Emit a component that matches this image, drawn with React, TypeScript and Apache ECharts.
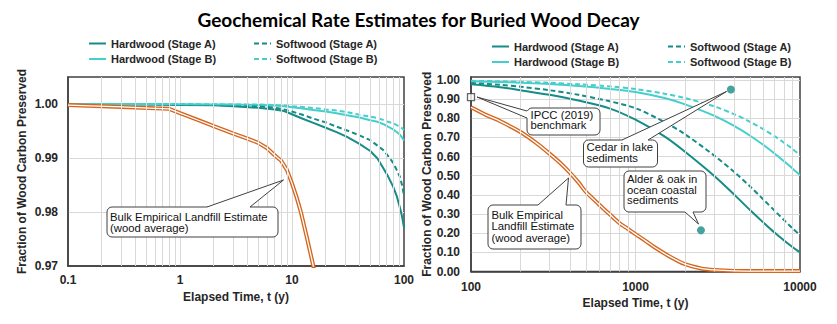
import React, { useEffect, useRef } from 'react';
import * as echarts from 'echarts';

// ---------- data ----------
const NAMES = ['Hardwood (Stage A)', 'Hardwood (Stage B)', 'Softwood (Stage A)', 'Softwood (Stage B)'];

// Left panel (0.1 – 100 y)
const leftT = [0.1, 0.5, 1, 2, 3, 5, 7, 8.5, 10, 12, 15.5, 20, 25, 31, 40, 50, 58, 65, 72, 80, 86, 92, 96, 100];
const leftHardA = [1.0, 0.9999, 0.9998, 0.99975, 0.9996, 0.9993, 0.999, 0.9987, 0.9981, 0.9974, 0.9965, 0.9956, 0.9948, 0.9939, 0.9926, 0.9913, 0.9899, 0.9882, 0.9866, 0.9847, 0.983, 0.9808, 0.9792, 0.9771];
const leftHardB = [1.0, 1.0, 0.99995, 0.9999, 0.9999, 0.9998, 0.9997, 0.9996, 0.9994, 0.9992, 0.9989, 0.9986, 0.9983, 0.9979, 0.9975, 0.997, 0.9967, 0.9963, 0.9958, 0.9953, 0.9948, 0.9943, 0.9938, 0.9932];
const leftSoftA = [1.0, 0.99995, 0.9999, 0.9998, 0.99975, 0.9996, 0.9993, 0.999, 0.9986, 0.9981, 0.9973, 0.9966, 0.9958, 0.9951, 0.9942, 0.9933, 0.9923, 0.9915, 0.9904, 0.9891, 0.9878, 0.9865, 0.985, 0.9831];
const leftSoftB = [1.0, 1.0, 1.0, 0.99995, 0.9999, 0.9999, 0.9998, 0.9997, 0.9996, 0.9995, 0.99925, 0.999, 0.9988, 0.9985, 0.998, 0.99768, 0.9974, 0.99706, 0.9967, 0.99644, 0.9961, 0.9958, 0.9955, 0.9952];
const leftLandfillT = [0.1, 0.3, 0.6, 0.8, 1, 1.5, 2, 3, 4, 5, 6, 7, 8, 9, 10, 11, 12, 13.5, 15.5, 20, 100];
const leftLandfillV = [0.9998, 0.99945, 0.9992, 0.9991, 0.9983, 0.9969, 0.9959, 0.9945, 0.9936, 0.9928, 0.9918, 0.9905, 0.9895, 0.9878, 0.9853, 0.9827, 0.98, 0.9755, 0.97, 0.958, 0.857];

// Right panel (100 – 10000 y)
const rightT = [100, 150, 200, 300, 450, 700, 1000, 1500, 2000, 3000, 4000, 5000, 6000, 7000, 8000, 9000, 10000];
const rightHardA = [0.977, 0.962, 0.946, 0.922, 0.892, 0.85, 0.792, 0.705, 0.625, 0.5, 0.4, 0.318, 0.255, 0.203, 0.162, 0.128, 0.1];
const rightHardB = [0.993, 0.989, 0.985, 0.978, 0.968, 0.953, 0.937, 0.905, 0.872, 0.813, 0.758, 0.707, 0.66, 0.616, 0.575, 0.538, 0.503];
const rightSoftA = [0.984, 0.974, 0.964, 0.946, 0.922, 0.888, 0.852, 0.78, 0.716, 0.606, 0.518, 0.442, 0.375, 0.318, 0.268, 0.226, 0.19];
const rightSoftB = [0.995, 0.993, 0.99, 0.985, 0.977, 0.966, 0.952, 0.928, 0.905, 0.862, 0.82, 0.78, 0.742, 0.706, 0.672, 0.64, 0.608];
const rightLandfillT = [100, 125, 150, 200, 250, 300, 350, 400, 450, 500, 600, 700, 800, 900, 1000, 1150, 1300, 1600, 2000, 2500, 3000, 4000, 6000, 10000];
const rightLandfillV = [0.857, 0.815, 0.785, 0.728, 0.67, 0.615, 0.565, 0.515, 0.465, 0.415, 0.35, 0.297, 0.252, 0.222, 0.195, 0.16, 0.128, 0.08, 0.038, 0.016, 0.008, 0.003, 0.002, 0.002];

const ipccPoint = [100, 0.91];
const cedarPoint = [3800, 0.95];
const alderPoint = [2500, 0.215];

// ---------- style ----------
const TEAL = '#168c87';
const CYAN = '#45cfcc';
const ORANGE = '#d4661e';
const GRIDC = '#d9d9d9';
const FRAME = '#404040';
const FONT = '"Liberation Sans", Arial, sans-serif';

const pair = (t: number[], v: number[]) => t.map((x, i) => [x, v[i]]);

const minorTicks = (decades: number[]) => {
  const out: number[] = [];
  decades.forEach((d) => {
    for (let k = 2; k <= 9; k++) out.push(+(k * d).toPrecision(6));
  });
  return out;
};

function curveSeries(ai: number, data: number[][][], smooth: number | boolean) {
  const colors = [TEAL, CYAN, TEAL, CYAN];
  const types: any[] = ['solid', 'solid', [5, 3], [5, 3]];
  return NAMES.map((name, i) => ({
    name,
    type: 'line',
    xAxisIndex: ai,
    yAxisIndex: ai,
    data: data[i],
    symbol: 'none',
    showSymbol: false,
    smooth,
    lineStyle: { color: colors[i], width: 2, type: types[i] },
    itemStyle: { color: colors[i] },
    z: 3,
  }));
}

function landfillSeries(ai: number, data: number[][], smooth: number | boolean) {
  return [
    { name: 'landfill', type: 'line', xAxisIndex: ai, yAxisIndex: ai, data, symbol: 'none', smooth,
      lineStyle: { color: ORANGE, width: 4 }, z: 4, silent: true },
    { name: 'landfill-inner', type: 'line', xAxisIndex: ai, yAxisIndex: ai, data, symbol: 'none', smooth,
      lineStyle: { color: '#ffffff', width: 1.3 }, z: 5, silent: true },
  ];
}

function minorGridSeries(ai: number, ticks: number[]) {
  return {
    name: 'minor-grid' + ai,
    type: 'line',
    xAxisIndex: ai,
    yAxisIndex: ai,
    data: [],
    silent: true,
    z: 1,
    markLine: {
      silent: true,
      symbol: ['none', 'none'],
      label: { show: false },
      lineStyle: { color: GRIDC, width: 1, type: 'solid' },
      emphasis: { disabled: true },
      data: ticks.map((v) => ({ xAxis: v })),
    },
  };
}

type Callout = {
  x: number; y: number; w: number; h: number;
  lines: string[]; tx: number; ty: number; lh: number;
  b1: number[]; b2: number[]; tip: number[]; side: 'top' | 'bottom' | 'left' | 'right';
};

const callouts: Callout[] = [
  { x: 107, y: 207, w: 171, h: 30, lines: ['Bulk Empirical Landfill Estimate', '(wood average)'], tx: 110, ty: 211, lh: 11.6,
    b1: [207, 207], b2: [250, 207], tip: [283.5, 180], side: 'top' },
  { x: 527, y: 108, w: 73, h: 27, lines: ['IPCC (2019)', 'benchmark'], tx: 530.5, ty: 109.5, lh: 10.6,
    b1: [527, 111], b2: [527, 118], tip: [477, 97], side: 'left' },
  { x: 583.5, y: 140, w: 74, h: 27, lines: ['Cedar in lake', 'sediments'], tx: 586.5, ty: 141.5, lh: 11,
    b1: [622, 140], b2: [648, 140], tip: [726.5, 91.5], side: 'top' },
  { x: 624, y: 171, w: 82, h: 41, lines: ['Alder & oak in', 'ocean coastal', 'sediments'], tx: 627, ty: 174, lh: 10.5,
    b1: [685, 212], b2: [693, 212], tip: [698.5, 224], side: 'bottom' },
  { x: 488, y: 205, w: 93, h: 44, lines: ['Bulk Empirical', 'Landfill Estimate', '(wood average)'], tx: 491.5, ty: 209, lh: 11.5,
    b1: [538, 205], b2: [566, 205], tip: [568.5, 178], side: 'top' },
];

function calloutElements(c: Callout) {
  const d = c.side === 'top' ? [0, 1.5] : c.side === 'bottom' ? [0, -1.5] : c.side === 'left' ? [1.5, 0] : [-1.5, 0];
  return [
    { type: 'rect', z: 100, shape: { x: c.x, y: c.y, width: c.w, height: c.h, r: 5 },
      style: { fill: '#ffffff', stroke: FRAME, lineWidth: 1 } },
    { type: 'polygon', z: 101,
      shape: { points: [[c.b1[0] + d[0], c.b1[1] + d[1]], c.b1, c.tip, c.b2, [c.b2[0] + d[0], c.b2[1] + d[1]]] },
      style: { fill: '#ffffff', lineWidth: 0 } },
    { type: 'polyline', z: 102, shape: { points: [c.b1, c.tip, c.b2] },
      style: { stroke: FRAME, lineWidth: 1, fill: null } },
    { type: 'text', z: 103, x: c.tx, y: c.ty,
      style: { text: c.lines.join('\n'), fontSize: 11.3, fontFamily: FONT, fill: '#111111', lineHeight: c.lh } },
  ];
}

const axisLabelStyle = { fontSize: 12, fontWeight: 'bold' as const, fontFamily: FONT, color: '#262626' };
const axisNameStyle = { fontSize: 12, fontWeight: 'bold' as const, fontFamily: FONT, color: '#262626' };

function legends(left1: number, left2: number, top: number) {
  const base = {
    orient: 'vertical', top, itemWidth: 17, itemHeight: 10, itemGap: 2.5, padding: 0, selectedMode: false,
    itemStyle: { opacity: 0, borderWidth: 0 },
    textStyle: { fontSize: 11, fontWeight: 'bold', fontFamily: FONT, color: '#262626', lineHeight: 13 },
  };
  return [
    { ...base, left: left1, data: [NAMES[0], NAMES[1]] },
    { ...base, left: left2, data: [NAMES[2], NAMES[3]] },
  ];
}

export default function App() {
  const ref = useRef<HTMLDivElement>(null);
  useEffect(() => {
    if (!ref.current) return;
    const chart = echarts.init(ref.current, null, { renderer: 'svg' });
    const splitLine = { show: true, lineStyle: { color: GRIDC, width: 1 }, showMinLine: false, showMaxLine: false };
    const option: any = {
      animation: false,
      backgroundColor: '#ffffff',
      title: {
        text: 'Geochemical Rate Estimates for Buried Wood Decay',
        left: 'center', top: 5,
        textStyle: { fontFamily: 'Lato, "Open Sans", sans-serif', fontWeight: 'bold', fontSize: 19, color: '#000000' },
      },
      legend: [...legends(88, 253, 37), ...legends(491, 667, 40)],
      grid: [
        { left: 68, top: 77, width: 336, height: 189, show: true, borderColor: FRAME, borderWidth: 1.5, backgroundColor: 'transparent' },
        { left: 471, top: 77, width: 329, height: 194.5, show: true, borderColor: FRAME, borderWidth: 1.5, backgroundColor: 'transparent' },
      ],
      xAxis: [
        {
          type: 'log', logBase: 10, min: 0.1, max: 100, gridIndex: 0,
          name: 'Elapsed Time, t (y)', nameLocation: 'middle', nameGap: 22, nameTextStyle: axisNameStyle,
          axisLine: { show: true, lineStyle: { color: FRAME, width: 1.5 } }, axisTick: { show: false },
          axisLabel: { ...axisLabelStyle, margin: 8, formatter: (v: number) => String(+v.toPrecision(6)) },
          splitLine,
        },
        {
          type: 'log', logBase: 10, min: 100, max: 10000, gridIndex: 1,
          name: 'Elapsed Time, t (y)', nameLocation: 'middle', nameGap: 24, nameTextStyle: axisNameStyle,
          axisLine: { show: true, lineStyle: { color: FRAME, width: 1.5 } }, axisTick: { show: false },
          axisLabel: { ...axisLabelStyle, margin: 9, formatter: (v: number) => String(+v.toPrecision(6)) },
          splitLine,
        },
      ],
      yAxis: [
        {
          type: 'value', min: 0.97, max: 1.005, interval: 0.01, gridIndex: 0,
          name: 'Fraction of Wood Carbon Preserved', nameLocation: 'middle', nameGap: 40, nameTextStyle: axisNameStyle,
          axisLine: { show: true, lineStyle: { color: FRAME, width: 1.5 } }, axisTick: { show: false },
          axisLabel: {
            ...axisLabelStyle, margin: 10,
            formatter: (v: number) => (Math.abs(v * 100 - Math.round(v * 100)) < 1e-6 ? v.toFixed(2) : ''),
          },
          splitLine,
        },
        {
          type: 'value', min: 0, max: 1.015, interval: 0.1, gridIndex: 1,
          name: 'Fraction of Wood Carbon Preserved', nameLocation: 'middle', nameGap: 37, nameTextStyle: axisNameStyle,
          axisLine: { show: true, lineStyle: { color: FRAME, width: 1.5 } }, axisTick: { show: false },
          axisLabel: {
            ...axisLabelStyle, margin: 11,
            formatter: (v: number) => (Math.abs(v * 10 - Math.round(v * 10)) < 1e-6 ? v.toFixed(2) : ''),
          },
          splitLine,
        },
      ],
      series: [
        minorGridSeries(0, minorTicks([0.1, 1, 10])),
        minorGridSeries(1, minorTicks([100, 1000])),
        ...landfillSeries(0, pair(leftLandfillT, leftLandfillV), false),
        ...curveSeries(0, [pair(leftT, leftHardA), pair(leftT, leftHardB), pair(leftT, leftSoftA), pair(leftT, leftSoftB)], false),
        ...landfillSeries(1, pair(rightLandfillT, rightLandfillV), 0.3),
        ...curveSeries(1, [pair(rightT, rightHardA), pair(rightT, rightHardB), pair(rightT, rightSoftA), pair(rightT, rightSoftB)], 0.3),
        {
          name: 'IPCC', type: 'scatter', xAxisIndex: 1, yAxisIndex: 1, data: [ipccPoint], symbol: 'rect', symbolSize: 7,
          itemStyle: { color: '#ffffff', borderColor: FRAME, borderWidth: 1.3 }, clip: false, z: 120, silent: true,
        },
        {
          name: 'Sites', type: 'scatter', xAxisIndex: 1, yAxisIndex: 1, data: [cedarPoint, alderPoint], symbol: 'circle', symbolSize: 8,
          itemStyle: { color: TEAL }, clip: false, z: 120, silent: true,
        },
      ],
      graphic: callouts.flatMap(calloutElements),
    };
    chart.setOption(option);
    return () => chart.dispose();
  }, []);
  return <div ref={ref} style={{ position: 'absolute', left: 0, top: 0, width: 837, height: 324 }} />;
}
